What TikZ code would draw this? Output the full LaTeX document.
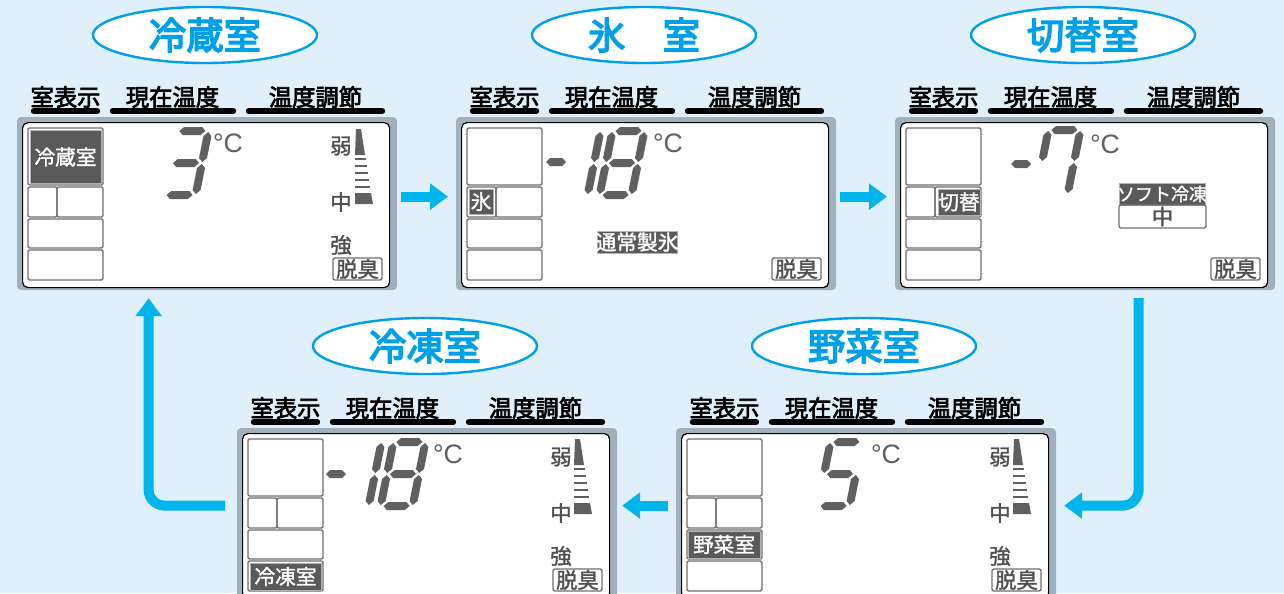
\documentclass[tikz,border=0pt]{standalone}
\usepackage{fontspec}
\setmainfont{Noto Sans CJK JP}
\newfontfamily\latinsf{Liberation Sans}
\newfontfamily\hdrfont{Noto Sans CJK JP}[FakeBold=3]
\newfontfamily\titlefont{Noto Sans CJK JP}[FakeBold=4]
\newfontfamily\lcdfont{Noto Sans CJK JP}[FakeBold=1.5]
\usetikzlibrary{arrows.meta,shapes.geometric}
\definecolor{bgc}{RGB}{223,240,250}
\definecolor{arrowc}{RGB}{0,181,236}
\definecolor{titlec}{RGB}{0,160,233}
\definecolor{framec}{RGB}{160,177,188}
\definecolor{segc}{RGB}{96,96,96}
\definecolor{lcdtext}{RGB}{80,80,80}
\definecolor{compc}{RGB}{110,110,110}
\definecolor{hlc}{RGB}{90,90,90}
\tikzset{
 panelbox/.style={draw=black, line width=0.9pt, fill=white, rounded corners=4pt, minimum width=275.25pt, minimum height=123.75pt, inner sep=0pt, anchor=north west},
 hdr/.style={font=\hdrfont\fontsize{17.5}{19}\selectfont, inner sep=0pt},
 hbar/.style={line width=4.8pt, line cap=round},
 comp/.style={draw=compc, line width=1.1pt, rounded corners=1pt},
 title/.style={ellipse, draw=titlec, line width=1.8pt, fill=white, minimum width=168pt, minimum height=42pt, inner sep=0pt, text=titlec, font=\titlefont\fontsize{28}{30}\selectfont},
 lcdlab/.style={text=lcdtext, font=\lcdfont\fontsize{16}{17}\selectfont, inner sep=0pt},
 deo/.style={draw=compc, line width=1pt, rounded corners=1.5pt, text=lcdtext, font=\lcdfont\fontsize{16}{17}\selectfont, inner sep=0pt, minimum width=36.75pt, minimum height=16.5pt},
 hlbox/.style={fill=hlc, draw=gray!60, line width=0.6pt},
 hltext/.style={text=white, font=\lcdfont\fontsize{15.5}{17}\selectfont, inner sep=0pt},
 degc/.style={text=segc, font=\latinsf\fontsize{20}{22}\selectfont, inner sep=0pt},
 flow/.style={draw=arrowc, line width=7.5pt, -{Triangle[length=13.5pt,width=19pt]}},
}
\newcommand\hseg[2]{\fill[segc] (#1-13,#2) -- (#1-9,#2-4) -- (#1+9,#2-4) -- (#1+13,#2) -- (#1+9,#2+4) -- (#1-9,#2+4) -- cycle;}
\newcommand\vseg[2]{\fill[segc] (#1,#2-15) -- (#1+4,#2-11) -- (#1+4,#2+11) -- (#1,#2+15) -- (#1-4,#2+11) -- (#1-4,#2-11) -- cycle;}
\newcommand\minusseg[2]{\fill[segc] (#1-10,#2) -- (#1-6,#2-4) -- (#1+6,#2-4) -- (#1+10,#2) -- (#1+6,#2+4) -- (#1-6,#2+4) -- cycle;}
\newcommand\sgA{\hseg{0}{-32}}
\newcommand\sgG{\hseg{0}{0}}
\newcommand\sgD{\hseg{0}{32}}
\newcommand\sgF{\vseg{-16}{-16}}
\newcommand\sgB{\vseg{16}{-16}}
\newcommand\sgE{\vseg{-16}{16}}
\newcommand\sgC{\vseg{16}{16}}
\newcommand\sgOne{\vseg{-28}{-16}\vseg{-28}{16}}
\newcommand\digit[3]{\begin{scope}[shift={(#1,#2)},xslant=0.2]#3\end{scope}}
\newcommand\strength[2]{%
 \fill[segc] (#1+1,#2) -- (#1+6,#2) -- (#1+10,#2+26) -- (#1,#2+26) -- cycle;
 \foreach \dd in {30,37,44,51,58} {\draw[segc, line width=1.2pt] (#1,#2+\dd) -- ({#1+6+0.16*\dd},#2+\dd);}
 \fill[segc] (#1,#2+64) -- (#1+16,#2+64) -- (#1+18,#2+75) -- (#1,#2+75) -- cycle;}
\newcommand\lcdpanel[4]{%
\begin{scope}[shift={(#2,#3)}]
\fill[framec, rounded corners=3pt] (-5,-5) rectangle (375,168);
\node[panelbox] (#1) at (0,0) {};
\node[title] (#1t) at (183,-87) {#4};
\node[hdr] (#1ha) at (43.5,-25) {室表示};
\node[hdr] (#1hb) at (150.5,-25) {現在温度};
\node[hdr] (#1hc) at (293.5,-25) {温度調節};
\draw[hbar] (12,-11) -- (75,-11);
\draw[hbar] (91,-11) -- (211,-11);
\draw[hbar] (227,-11) -- (360,-11);
\draw[comp] (6,6) rectangle (81,63);
\draw[comp] (6,65) rectangle (35,95);
\draw[comp] (35,65) rectangle (81,95);
\draw[comp] (6,97) rectangle (81,126);
\draw[comp] (6,128) rectangle (81,158);
\node[deo] (#1d) at (335.5,147) {脱臭};
\end{scope}}
\newcommand\strengthlabels[1]{%
\node[lcdlab] (#1w) at (319,24) {弱};
\node[lcdlab] (#1m) at (319,80) {中};
\node[lcdlab] (#1s) at (319,123) {強};}
\begin{document}
\begin{tikzpicture}[x=0.75pt,y=-0.75pt]
\useasboundingbox[fill=bgc] (0,0) rectangle (1284,593);
\clip (0,0) rectangle (1284,593);
% panel 1: 冷蔵室
\lcdpanel{pa}{22}{122}{冷蔵室}
\begin{scope}[shift={(22,122)}]
\draw[hlbox] (8,8) rectangle (79,61);
\node[hltext] (par) at (43.5,35) {冷蔵室};
\digit{164}{41}{\sgA\sgB\sgG\sgC\sgD}
\node[degc] (pac) at (206,21) {°C};
\strengthlabels{pa}
\strength{333}{7}
\end{scope}
% panel 2: 氷室
\lcdpanel{pb}{461}{122}{氷　室}
\begin{scope}[shift={(461,122)}]
\draw[hlbox] (8,67) rectangle (32,92);
\node[hltext] (pbr) at (20,79.5) {氷};
\minusseg{95}{40}
\digit{161}{41}{\sgOne\sgA\sgB\sgC\sgD\sgE\sgF\sgG}
\node[degc] (pbc) at (207,21) {°C};
\draw[hlbox] (136,109) rectangle (216,131);
\node[hltext] (pbi) at (176,120) {通常製氷};
\end{scope}
% panel 3: 切替室
\lcdpanel{pc}{900}{122}{切替室}
\begin{scope}[shift={(900,122)}]
\draw[hlbox] (38,67) rectangle (80,93);
\node[hltext] (pcr) at (59,80) {切替};
\minusseg{121}{42}
\digit{158}{40}{\sgA\sgB\sgC\sgF}
\node[degc] (pcc) at (205,22) {°C};
\draw[hlbox] (219,61) rectangle (305,83);
\node[hltext, font=\lcdfont\fontsize{13.5}{15}\selectfont] (pcs) at (262,72) {ソフト冷凍};
\node[deo, minimum width=65.25pt, minimum height=17.25pt] (pcm) at (262.5,94.5) {中};
\end{scope}
% panel 4: 冷凍室
\lcdpanel{pd}{242}{433}{冷凍室}
\begin{scope}[shift={(242,433)}]
\draw[hlbox] (8,130) rectangle (79,157);
\node[hltext] (pdr) at (43.5,143.5) {冷凍室};
\minusseg{94}{41}
\digit{161}{41}{\sgOne\sgA\sgB\sgC\sgD\sgE\sgF\sgG}
\node[degc] (pdc) at (206,21) {°C};
\strengthlabels{pd}
\strength{332}{6}
\end{scope}
% panel 5: 野菜室
\lcdpanel{pe}{681}{433}{野菜室}
\begin{scope}[shift={(681,433)}]
\draw[hlbox] (7,98) rectangle (79,125);
\node[hltext] (per) at (43,111.5) {野菜室};
\digit{159}{41}{\sgA\sgF\sgG\sgC\sgD}
\node[degc] (pec) at (205,21) {°C};
\strengthlabels{pe}
\strength{332}{6}
\end{scope}
% arrows
\draw[flow] ([shift={(11,-8.5)}]pa.east) -- ([shift={(-13,-8.5)}]pb.west);
\draw[flow] ([shift={(11,-8.5)}]pb.east) -- ([shift={(-13,-8.5)}]pc.west);
\draw[flow, rounded corners=12pt] ([shift={(54.5,10)}]pc.south) |- ([shift={(15,-10.5)}]pe.east);
\draw[flow] ([shift={(-13,-10.5)}]pe.west) -- ([shift={(12,-10.5)}]pd.east);
\draw[flow, rounded corners=12pt] ([shift={(-17,-10.5)}]pd.west) -| ([shift={(-57.5,10)}]pa.south);
\end{tikzpicture}
\end{document}
